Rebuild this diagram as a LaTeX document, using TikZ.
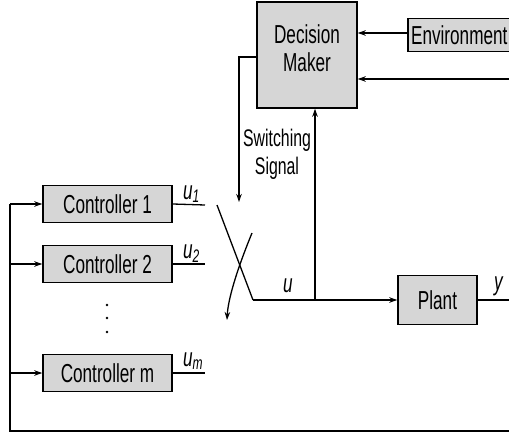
\documentclass[tikz,border=0pt]{standalone}
\usepackage{fontspec}
\setmainfont[FakeStretch=0.66]{Liberation Sans}
\usetikzlibrary{arrows.meta,calc}
\tikzset{
  blk/.style={draw, line width=1.5pt, fill=black!16, inner sep=0pt, font=\fontsize{26}{28}\selectfont},
  conn/.style={line width=1.3pt},
  arr/.style={conn, -{Stealth[length=8pt,width=5.5pt]}},
  lab/.style={font=\fontsize{26}{28}\selectfont\itshape, inner sep=0pt},
  txt/.style={font=\fontsize{24}{28}\selectfont, inner sep=0pt}
}
\begin{document}
\begin{tikzpicture}[x=1pt,y=-1pt]
\useasboundingbox (0,0) rectangle (509,436);
% blocks
\node[blk, minimum width=100pt, minimum height=106pt] (dm) at (307,55) {};
\node[txt, font=\fontsize{26}{28}\selectfont, align=center] (dmt) at (307,48) {Decision\\Maker};
\node[blk, minimum width=103pt, minimum height=33pt, anchor=west] (env) at (407,35) {Environment};
\node[blk, minimum width=129pt, minimum height=37pt] (c1) at (107.5,204) {Controller 1};
\node[blk, minimum width=129pt, minimum height=37pt] (c2) at (107.5,264) {Controller 2};
\node[blk, minimum width=129pt, minimum height=37pt] (cm) at (107.5,373) {Controller m};
\node[blk, minimum width=79pt, minimum height=49pt] (plant) at (437.5,300) {Plant};
% coordinates
\coordinate (fb) at (509,79);
\coordinate (dml) at (257,57);
\coordinate (ss) at (239,202);
\coordinate (u1e) at (205,205);
\coordinate (u2e) at (205,264);
\coordinate (ume) at (205,373);
\coordinate (sa) at (217,205);
\coordinate (sp) at (253,300);
\coordinate (junc) at (315,300);
\coordinate (sb) at (252,233);
\coordinate (sbe) at (227,320);
\coordinate (yout) at (509,300);
\coordinate (br) at (509,431);
\coordinate (bl) at (10,431);
\coordinate (l1) at (10,204);
\coordinate (l2) at (10,264);
\coordinate (lm) at (10,373);
% connectors
\draw[arr] (env.west |- 0,33) -- (dm.east |- 0,33);
\draw[arr] (fb) -- (dm.east |- fb);
\draw[arr] (dml) -| (ss);
\draw[arr] (junc) -- (dm.south -| junc);
\draw[conn] (c1.east) -- (u1e);
\draw[conn] (c2.east) -- (u2e);
\draw[conn] (cm.east) -- (ume);
\draw[conn] (sa) -- (sp);
\draw[arr] (sp) -- (plant.west);
\draw[arr] (sb) .. controls (236,272) and (228,300) .. (sbe);
\draw[conn] (plant.east) -- (yout);
\draw[conn] (br) -- (bl) -- (l1);
\draw[arr] (l1) -- (c1.west);
\draw[arr] (l2) -- (c2.west);
\draw[arr] (lm) -- (cm.west);
% labels
\node[lab, anchor=base west] (lu1) at (183,199) {u\textsubscript{1}};
\node[lab, anchor=base west] (lu2) at (183,258) {u\textsubscript{2}};
\node[lab, anchor=base west] (lum) at (183,366) {u\textsubscript{m}};
\node[lab, anchor=base west] (lu) at (283,292) {u};
\node[lab, anchor=base west] (ly) at (494,290) {y};
\node[txt] (sw1) at (277,140) {Switching};
\node[txt] (sw2) at (277,168) {Signal};
% dots
\fill (107,305) circle (1.4pt);
\fill (107,318) circle (1.4pt);
\fill (107,332) circle (1.4pt);
\end{tikzpicture}
\end{document}
